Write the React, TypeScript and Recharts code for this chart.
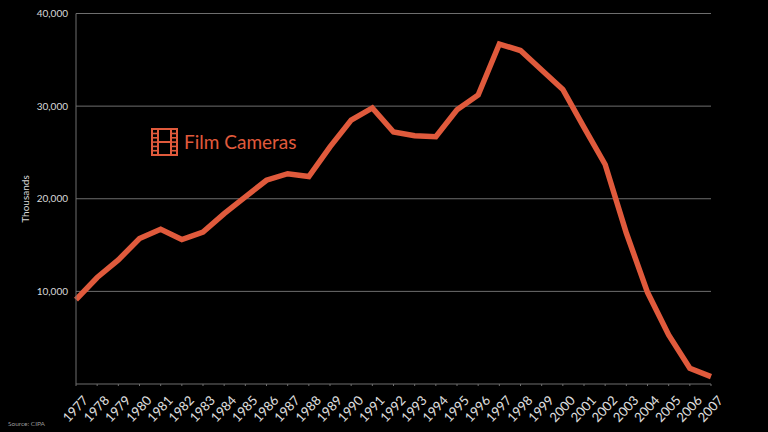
import { CartesianGrid, Line, LineChart, XAxis, YAxis } from "recharts";

const years = [
  1977, 1978, 1979, 1980, 1981, 1982, 1983, 1984, 1985, 1986, 1987, 1988, 1989, 1990, 1991, 1992,
  1993, 1994, 1995, 1996, 1997, 1998, 1999, 2000, 2001, 2002, 2003, 2004, 2005, 2006, 2007,
];
const filmCameras = [
  9100, 11500, 13400, 15700, 16700, 15600, 16400, 18400, 20200, 22000, 22700, 22400, 25600, 28500,
  29800, 27200, 26800, 26700, 29600, 31200, 36700, 36000, 33900, 31800, 27700, 23700, 16300, 9900,
  5300, 1700, 800,
];
const yTicks = [10000, 20000, 30000, 40000];

const data = years.map((year, i) => ({ year, film: filmCameras[i] }));

const ORANGE = "#e05a3c";
const FONT = "Lato, sans-serif";

function YearTick({ x, y, payload }: any) {
  return (
    <text
      x={x + 13}
      y={y + 13}
      fill="#e0e0e0"
      fontSize={13}
      fontFamily={FONT}
      textAnchor="end"
      transform={`rotate(-47 ${x + 13} ${y + 13})`}
    >
      {payload.value}
    </text>
  );
}

function FilmIcon() {
  const holes = [0, 1, 2, 3, 4];
  return (
    <svg width={27} height={28} style={{ position: "absolute", left: 151, top: 128 }}>
      <rect x={1} y={1} width={25} height={26} fill="none" stroke={ORANGE} strokeWidth={2} />
      <line x1={7} y1={1} x2={7} y2={27} stroke={ORANGE} strokeWidth={2} />
      <line x1={20} y1={1} x2={20} y2={27} stroke={ORANGE} strokeWidth={2} />
      <line x1={7} y1={14} x2={20} y2={14} stroke={ORANGE} strokeWidth={2} />
      {holes.map((h) => (
        <line key={h} x1={1} y1={5.5 + h * 4.3} x2={7} y2={5.5 + h * 4.3} stroke={ORANGE} strokeWidth={1.6} />
      ))}
      {holes.map((h) => (
        <line key={h} x1={20} y1={5.5 + h * 4.3} x2={26} y2={5.5 + h * 4.3} stroke={ORANGE} strokeWidth={1.6} />
      ))}
    </svg>
  );
}

export default function App() {
  return (
    <div style={{ position: "absolute", left: 0, top: 0, width: 768, height: 432, background: "#000", overflow: "hidden" }}>
      <LineChart
        width={768}
        height={432}
        data={data}
        margin={{ top: 13.5, right: 57, left: 0, bottom: 0 }}
      >
        <CartesianGrid stroke="#6e6e6e" vertical={false} horizontalValues={yTicks} />
        <XAxis
          dataKey="year"
          height={48}
          interval={0}
          padding={{ left: 0, right: 0 }}
          stroke="#6e6e6e"
          tickSize={2}
          tick={<YearTick />}
        />
        <YAxis
          width={76}
          domain={[0, 40000]}
          ticks={yTicks}
          stroke="#6e6e6e"
          tickLine={false}
          tickMargin={2}
          tick={{ fill: "#d8d8d8", fontSize: 10, fontFamily: FONT }}
          tickFormatter={(v: number) => v.toLocaleString("en-US")}
        />
        <Line
          dataKey="film"
          type="linear"
          stroke={ORANGE}
          strokeWidth={5.5}
          strokeLinejoin="miter"
          dot={false}
          isAnimationActive={false}
        />
      </LineChart>
      <FilmIcon />
      <div style={{ position: "absolute", left: 184, top: 131, color: ORANGE, fontFamily: FONT, fontSize: 19, lineHeight: "22px" }}>
        Film Cameras
      </div>
      <div
        style={{
          position: "absolute",
          left: 25,
          top: 199,
          color: "#d8d8d8",
          fontFamily: FONT,
          fontSize: 10,
          transform: "translate(-50%, -50%) rotate(-90deg)",
        }}
      >
        Thousands
      </div>
      <div style={{ position: "absolute", left: 8, top: 420, color: "#9a9a9a", fontFamily: FONT, fontSize: 6.5 }}>
        Source: CIPA
      </div>
    </div>
  );
}
